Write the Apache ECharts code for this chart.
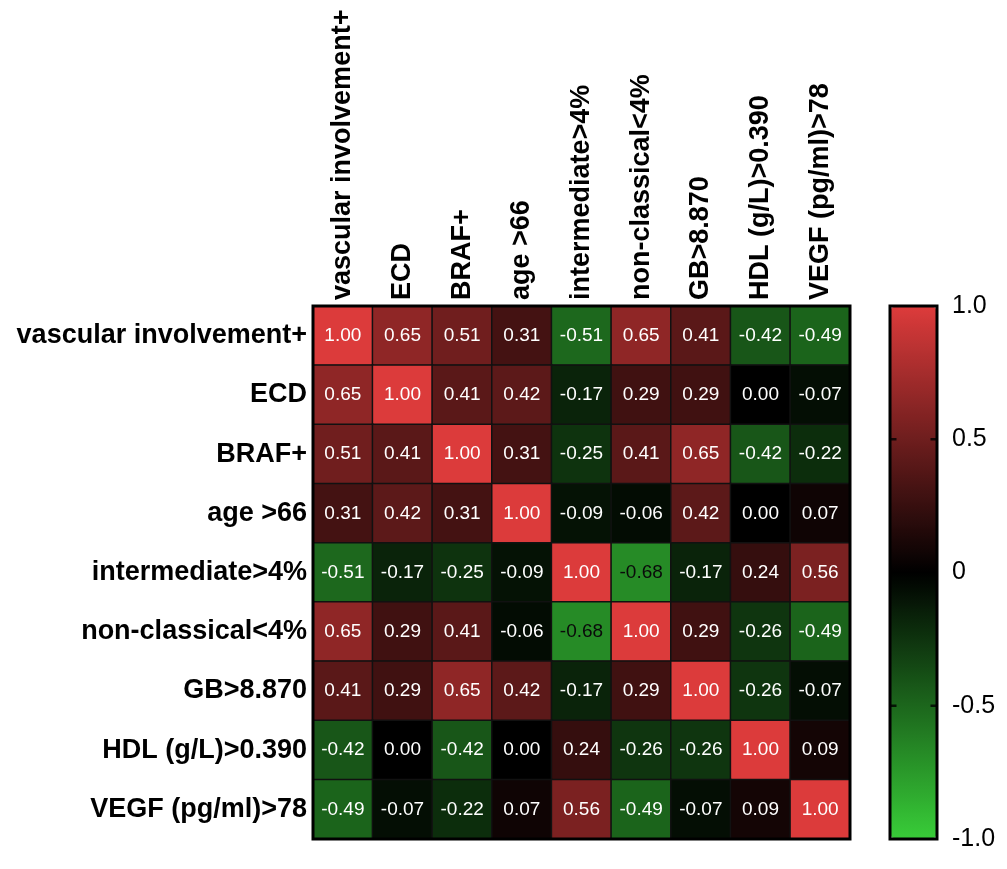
<!DOCTYPE html>
<html>
<head>
<meta charset="utf-8">
<script src="https://cdn.jsdelivr.net/npm/echarts@6/dist/echarts.min.js"></script>
<style>
html,body{margin:0;padding:0;background:#fff;}
#chart{width:1007px;height:869px;}
</style>
</head>
<body>
<div id="chart"></div>
<script>
var categories = ['vascular involvement+','ECD','BRAF+','age >66','intermediate>4%','non-classical<4%','GB>8.870','HDL (g/L)>0.390','VEGF (pg/ml)>78'];
var row0 = [1.00, 0.65, 0.51, 0.31, -0.51, 0.65, 0.41, -0.42, -0.49];
var row1 = [0.65, 1.00, 0.41, 0.42, -0.17, 0.29, 0.29, 0.00, -0.07];
var row2 = [0.51, 0.41, 1.00, 0.31, -0.25, 0.41, 0.65, -0.42, -0.22];
var row3 = [0.31, 0.42, 0.31, 1.00, -0.09, -0.06, 0.42, 0.00, 0.07];
var row4 = [-0.51, -0.17, -0.25, -0.09, 1.00, -0.68, -0.17, 0.24, 0.56];
var row5 = [0.65, 0.29, 0.41, -0.06, -0.68, 1.00, 0.29, -0.26, -0.49];
var row6 = [0.41, 0.29, 0.65, 0.42, -0.17, 0.29, 1.00, -0.26, -0.07];
var row7 = [-0.42, 0.00, -0.42, 0.00, 0.24, -0.26, -0.26, 1.00, 0.09];
var row8 = [-0.49, -0.07, -0.22, 0.07, 0.56, -0.49, -0.07, 0.09, 1.00];
var colorbarTicks = [-1, -0.5, 0, 0.5, 1];
var colorbarLabels = ['-1.0', '-0.5', '0', '0.5', '1.0'];
var colorbarMarkTicks = [-0.5, 0.5];

var rows = [row0,row1,row2,row3,row4,row5,row6,row7,row8];
var data = [];
rows.forEach(function(r, i){
  r.forEach(function(v, j){
    data.push({value:[j, i, v], label:{color: v < -0.6 ? '#0a0a0a' : '#ffffff'}});
  });
});
var tickMarks = [];
colorbarMarkTicks.forEach(function(t){
  tickMarks.push({value:[0, t], symbolOffset:[3, 0]});
  tickMarks.push({value:[1, t], symbolOffset:[-3, 0]});
});

var FONT = '"Liberation Sans", Arial, Helvetica, sans-serif';
var chart = echarts.init(document.getElementById('chart'));
chart.setOption({
  animation:false,
  backgroundColor:'#ffffff',
  grid:[
    {left:313, top:306, width:537, height:533, show:true, z:5, backgroundColor:'transparent', borderColor:'#000', borderWidth:3},
    {left:890, top:306, width:47, height:533, show:true, z:5, backgroundColor:'transparent', borderColor:'#000', borderWidth:3}
  ],
  xAxis:[
    {type:'category', data:categories, position:'top', gridIndex:0,
     axisLine:{show:false}, axisTick:{show:false}, splitLine:{show:false},
     axisLabel:{rotate:-90, margin:6, fontSize:27, fontWeight:'bold', color:'#000', fontFamily:FONT, interval:0}},
    {type:'value', gridIndex:1, show:false, min:0, max:1}
  ],
  yAxis:[
    {type:'category', data:categories, inverse:true, gridIndex:0,
     axisLine:{show:false}, axisTick:{show:false}, splitLine:{show:false},
     axisLabel:{margin:6, fontSize:27, fontWeight:'bold', color:'#000', fontFamily:FONT, interval:0}},
    {type:'value', gridIndex:1, position:'right', min:-1, max:1, interval:0.5,
     axisLine:{show:false}, splitLine:{show:false}, axisTick:{show:false},
     axisLabel:{margin:15, fontSize:25, color:'#000', fontFamily:FONT,
       formatter:function(v){ var k = colorbarTicks.indexOf(Math.round(v*2)/2); return k>=0 ? colorbarLabels[k] : ''; }}}
  ],
  visualMap:{
    type:'continuous', min:-1, max:1, seriesIndex:0, calculable:false, z:1,
    orient:'vertical', left:891, top:307, itemWidth:45, itemHeight:531, padding:0,
    text:null, showLabel:false, hoverLink:false,
    inRange:{color:['#38cc38', '#000000', '#dc3b3b']}
  },
  series:[{
    type:'heatmap', xAxisIndex:0, yAxisIndex:0, data:data,
    itemStyle:{borderColor:'#111', borderWidth:1.5},
    label:{show:true, fontSize:19, fontFamily:FONT,
      formatter:function(p){ return p.value[2].toFixed(2); }},
    emphasis:{disabled:true}
  },{
    type:'scatter', xAxisIndex:1, yAxisIndex:1, data:tickMarks, z:20,
    symbol:'rect', symbolSize:[7, 2.5], itemStyle:{color:'#000'}, silent:true
  }]
});
</script>
</body>
</html>
